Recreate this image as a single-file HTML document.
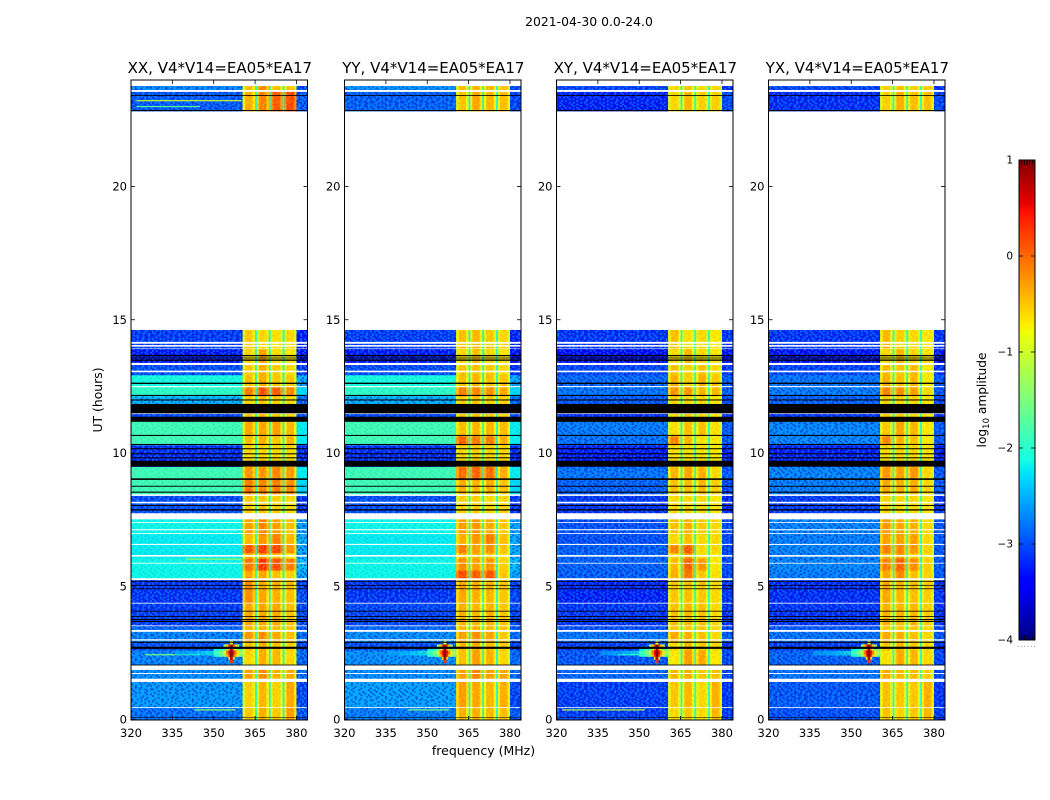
<!DOCTYPE html>
<html lang="en">
<head>
<meta charset="utf-8">
<title>2021-04-30 0.0-24.0 amplitude spectrograms</title>
<style>
html,body{margin:0;padding:0;background:#fff;}
svg{display:block;font-family:"DejaVu Sans","Liberation Sans",sans-serif;}
text{fill:#000;}
</style>
</head>
<body>
<svg id="figure" xmlns="http://www.w3.org/2000/svg" width="1050" height="800" viewBox="0 0 1050 800">
  <rect x="0" y="0" width="1050" height="800" fill="#fff"/>
  <text x="589" y="26" text-anchor="middle" font-size="12.4">2021-04-30 0.0-24.0</text>
  <text x="483.5" y="755" text-anchor="middle" font-size="12.5">frequency (MHz)</text>
  <text transform="translate(102,400) rotate(-90)" text-anchor="middle" font-size="12.4">UT (hours)</text>
  <text transform="translate(986,400) rotate(-90)" text-anchor="middle" font-size="12.2">log<tspan font-size="8.5" dy="3">10</tspan><tspan dy="-3"> amplitude</tspan></text>
  <defs id="defs"></defs>
  <g id="panels"></g>
  <g id="colorbar"></g>
</svg>
<script>
// ---------- data ----------
const panelTitles = ["XX, V4*V14=EA05*EA17", "YY, V4*V14=EA05*EA17", "XY, V4*V14=EA05*EA17", "YX, V4*V14=EA05*EA17"];
const xTicks = [320, 335, 350, 365, 380];
const yTicks = [0, 5, 10, 15, 20];
const colorbarTicks = [1, 0, -1, -2, -3, -4];
const colorbarTickLabels = ["1", "0", "\u22121", "\u22122", "\u22123", "\u22124"];

// Frequency columns (MHz): low band, four receiver blocks, upper edge
const lowBand = [320, 360.5];
const blockBands = [[360.5, 365], [365.5, 370], [370.5, 375], [375.5, 380]];
const edgeBand = [380, 384];
const gapBands = [[365, 365.5], [370, 370.5], [375, 375.5]];

// UT rows (hours)
const rowStarts = [0,0.45,1.5,2.05,2.6,2.9,3.3,3.5,4.37,5.25,5.6,6.05,6.25,6.55,6.96,7.74,8.42,8.99,9.49,10.3,10.64,11.2,11.83,12.14,12.47,12.93,13.3,13.9,22.83,23.62];
const rowEnds = [0.45,1.5,2.05,2.6,2.9,3.3,3.5,4.37,5.25,5.6,6.05,6.25,6.55,6.96,7.74,8.42,8.99,9.49,10.3,10.64,11.2,11.83,12.14,12.47,12.93,13.3,13.9,14.62,23.62,23.77];

// log10 amplitude per row: low, block 1-4, edge
const xxValues = [
[-2.8,-.5,-.35,-.5,-.25,-2.95],[-2.6,-.55,-.4,-.55,-.3,-3.05],[-2.65,-.25,-.15,-.35,-.3,-2.85],[-2.7,-.6,-.35,-.4,-.6,-2.85],
[-3,-.45,-.35,-.45,-.55,-3.05],[-2.7,-.2,-.15,-.3,-.45,-2.85],[-2.85,-.4,-.4,-.4,-.5,-2.95],[-3.1,-.3,-.3,-.3,-.45,-3.05],
[-3.15,-.15,-.3,-.35,-.45,-3.05],[-2.15,-.3,-.3,-.45,-.55,-2.5],[-2.15,.0,.35,.25,-.05,-2.4],[-2.2,-.4,-.3,-.45,-.7,-2.5],
[-2.2,.2,.3,.3,-.2,-2.5],[-2.2,-.4,-.2,-.05,-.4,-2.5],[-2.15,-.25,-.1,-.25,-.45,-2.55],[-3,-.5,-.5,-.55,-.6,-3.15],
[-1.85,-.05,-.1,-.05,-.15,-2.3],[-1.85,-.2,-.2,-.1,-.25,-2.2],[-3.2,-.6,-.6,-.6,-.6,-3.2],[-1.85,-.45,-.35,-.5,-.4,-2.2],
[-1.85,-.3,-.3,-.25,-.4,-2.2],[-3.05,-.5,-.45,-.5,-.6,-3.05],[-2.45,-.55,-.5,-.55,-.6,-2.85],[-1.95,-.05,.2,.15,-.15,-2.3],
[-2.1,-.45,-.35,-.5,-.5,-2.5],[-3,-.5,-.35,-.5,-.6,-3.15],[-3.3,-.6,-.3,-.65,-.7,-3.35],[-3.1,-.5,-.6,-.65,-.6,-3.25],
[-2.95,-.35,-.1,.15,.25,-2.95],[-2.7,-.45,-.15,-.45,-.5,-3.05]];
const yyValues = [
[-2.75,-.35,-.35,-.4,-.45,-2.95],[-2.55,-.25,-.3,-.4,-.35,-3.05],[-2.65,-.25,-.1,-.25,-.3,-2.85],[-2.65,-.45,-.25,-.35,-.6,-2.85],
[-3,-.4,-.35,-.45,-.5,-3.05],[-2.65,-.25,-.15,-.25,-.5,-2.85],[-2.85,-.4,-.35,-.4,-.5,-2.95],[-3.05,-.35,-.4,-.35,-.5,-3.05],
[-3.15,-.3,-.35,-.4,-.5,-3.05],[-2.15,.25,.15,.2,-.5,-2.5],[-2.15,-.15,-.25,-.2,-.55,-2.4],[-2.2,-.4,-.4,-.5,-.65,-2.5],
[-2.2,-.05,-.25,-.15,-.5,-2.5],[-2.2,-.35,-.2,-.05,-.45,-2.5],[-2.15,-.25,-.2,-.3,-.5,-2.55],[-3,-.55,-.55,-.6,-.6,-3.15],
[-1.85,-.35,-.4,-.35,-.5,-2.3],[-1.85,.05,.1,.05,-.35,-2.2],[-3.2,-.6,-.55,-.6,-.6,-3.2],[-1.85,.1,-.05,-.05,-.35,-2.2],
[-1.85,-.45,-.4,-.4,-.45,-2.2],[-3.05,-.5,-.45,-.5,-.6,-3.05],[-2.45,-.55,-.5,-.55,-.6,-2.85],[-1.95,-.05,-.1,-.15,-.3,-2.3],
[-2.1,-.45,-.4,-.45,-.5,-2.5],[-3,-.5,-.45,-.5,-.6,-3.15],[-3.3,-.6,-.45,-.6,-.7,-3.35],[-3.1,-.45,-.4,-.5,-.6,-3.25],
[-2.9,-.5,-.3,-.4,-.45,-3.05],[-2.65,-.45,-.4,-.4,-.5,-3.05]];
const xyValues = [
[-3.1,-.6,-.5,-.6,-.4,-3.1],[-3.1,-.5,-.4,-.6,-.35,-3.15],[-2.85,-.4,-.35,-.5,-.45,-3.05],[-2.95,-.7,-.25,-.3,-.7,-3.05],
[-3.1,-.6,-.4,-.5,-.6,-3.15],[-2.8,-.3,-.35,-.45,-.6,-2.95],[-3,-.5,-.5,-.5,-.6,-3.05],[-3.15,-.45,-.4,-.45,-.6,-3.15],
[-3.25,-.5,-.45,-.5,-.6,-3.15],[-2.9,-.35,.0,-.5,-.65,-3.05],[-2.9,-.4,.1,-.2,-.7,-3.05],[-2.9,-.6,-.25,-.6,-.7,-3.05],
[-2.9,-.1,.15,-.6,-.6,-3.05],[-3,-.6,-.45,-.6,-.6,-3.05],[-3,-.45,-.35,-.5,-.6,-3.05],[-3.15,-.6,-.6,-.6,-.7,-3.25],
[-2.9,-.45,-.45,-.4,-.55,-3.05],[-2.8,-.4,-.3,-.35,-.6,-2.95],[-3.3,-.65,-.65,-.65,-.7,-3.25],[-2.8,-.1,-.4,-.65,-.7,-2.95],
[-2.75,-.65,-.45,-.45,-.65,-2.95],[-3.2,-.6,-.5,-.6,-.7,-3.15],[-2.95,-.55,-.6,-.6,-.7,-3.05],[-2.8,-.2,-.2,-.4,-.4,-2.95],
[-2.85,-.35,-.55,-.35,-.5,-2.95],[-3.05,-.45,-.55,-.45,-.6,-3.15],[-3.4,-.65,-.4,-.6,-.7,-3.35],[-3.15,-.45,-.65,-.6,-.7,-3.15],
[-3.25,-.6,-.4,-.55,-.55,-3.05],[-3.05,-.6,-.5,-.6,-.6,-3.15]];
const yxValues = [
[-3,-.45,-.55,-.5,-.4,-3.1],[-2.95,-.45,-.5,-.5,-.35,-3.15],[-2.8,-.3,-.4,-.4,-.55,-3.05],[-2.9,-.65,-.3,-.4,-.6,-3.05],
[-3.1,-.5,-.4,-.5,-.6,-3.15],[-2.8,-.3,-.35,-.45,-.6,-2.95],[-2.95,-.5,-.5,-.5,-.6,-3.05],[-3.15,-.35,-.4,-.4,-.55,-3.15],
[-3.2,-.3,-.4,-.45,-.55,-3.15],[-2.75,-.3,-.1,-.45,-.55,-2.95],[-2.7,-.05,.1,-.15,-.55,-2.95],[-2.75,-.4,-.25,-.5,-.65,-2.95],
[-2.7,-.05,-.1,-.2,-.55,-2.95],[-2.75,-.25,-.25,-.25,-.6,-2.95],[-2.7,-.2,-.3,-.35,-.6,-2.95],[-3.1,-.55,-.6,-.6,-.7,-3.15],
[-2.75,-.3,-.35,-.35,-.6,-2.95],[-2.7,-.2,-.25,-.2,-.6,-2.95],[-3.25,-.6,-.6,-.6,-.7,-3.25],[-2.7,-.1,-.35,-.45,-.7,-2.95],
[-2.7,-.5,-.3,-.4,-.7,-2.95],[-3.15,-.5,-.5,-.6,-.7,-3.15],[-2.9,-.55,-.6,-.6,-.7,-3.05],[-2.75,-.1,-.15,-.25,-.6,-2.95],
[-2.8,-.35,-.45,-.4,-.7,-2.95],[-3.05,-.4,-.5,-.4,-.7,-3.15],[-3.35,-.6,-.4,-.6,-.7,-3.35],[-3.15,-.4,-.55,-.6,-.7,-3.15],
[-3.2,-.55,-.35,-.45,-.45,-3.05],[-3.05,-.55,-.45,-.55,-.55,-3.15]];
const panelValues = [xxValues, yyValues, xyValues, yxValues];
const gapLevels = [-2.15, -2.15, -2.1, -2.1];

// UT ranges with no data (white)
const missingRanges = [[14.62,22.81],[23.77,24],[23.55,23.62],[14.1,14.17],[13.99,14.05],[13.9,13.92],[13.3,13.38],[13.03,13.09],[12.47,12.51],[11.46,11.49],[8.39,8.45],[8.11,8.17],[7.51,7.74],[7.38,7.41],[7.1,7.14],[6.96,6.99],[6.55,6.59],[6.11,6.17],[5.85,5.88],[5.23,5.3],[4.35,4.38],[3.5,3.53],[3.29,3.36],[2.96,3.01],[1.86,2.03],[1.71,1.745],[1.41,1.53],[0.43,0.46]];
// UT ranges flagged (black)
const flaggedRanges = [[0.06,0.08],[2.03,2.06],[2.65,2.73],[2.88,2.92],[3.66,3.7],[3.73,3.77],[3.85,3.88],[4.05,4.08],[4.89,4.92],[5.02,5.05],[5.17,5.2],[7.84,7.89],[8.01,8.05],[8.51,8.55],[8.735,8.77],[8.99,9.05],[9.49,9.71],[9.8,9.84],[9.95,9.99],[10.14,10.18],[10.3,10.34],[10.64,10.68],[11.17,11.36],[11.49,11.84],[11.97,12.01],[12.14,12.18],[12.59,12.64],[13.46,13.51],[13.55,13.58],[13.63,13.68],[22.83,22.87],[23.4,23.43]];

// Interference burst near 356 MHz
const flareFreqEdges = [350, 352, 353.5, 354.5, 355.3, 355.9, 356.9, 357.5, 358.3, 359.2, 360.5];
const flareHourStarts = [2.12, 2.25, 2.36, 2.45, 2.6, 2.73, 2.82];
const flareHourEnds = [2.25, 2.36, 2.45, 2.6, 2.65, 2.82, 2.95];
const flareCells = [
[null,null,null,null,null,.3,null,null,null,null],
[null,null,null,null,-.6,.75,-.6,null,null,null],
[-2,-1.7,-1.3,-.5,.3,.95,.3,-.5,-1,-1.5],
[-1.9,-1.5,-1,-.1,.5,.95,.5,-.1,-.7,-1.3],
[-2.2,-2,-1.7,-1.2,-.4,.7,-.4,-1,-1.4,-1.7],
[null,null,-1.3,-.5,.2,.9,.2,-.5,-1.3,null],
[null,null,null,null,null,-.9,null,null,null,null]];
const streakFreqEdges = [336, 340, 344, 347, 350];
const streakValues = [-2.5, -2.4, -2.25, -2.1];
const streakHours = [2.4, 2.58];

// Narrow-band spectral lines
const linePanels = [0, 0, 0, 0, 0, 1, 2, 2];
const lineStartFreqs = [322, 322, 340, 343, 325, 343, 322, 342];
const lineEndFreqs = [360, 345, 360, 358, 345, 358, 352, 353];
const lineHours = [23.22, 23.0, 6.02, 0.36, 2.43, 0.36, 0.36, 2.43];
const lineLevels = [-1.0, -1.7, -1.3, -1.4, -1.5, -1.5, -1.1, -1.6];

// Hand-typed speckle tile for the receiver noise grain
const speckleTile = [
"+.-..+-.+..-.+.-",
"-+..-.+..-+.-..+",
".-+.+-..+.-..+-.",
"+..-..+-.+..+-.-",
".+-.+..-..-+..+.",
"-..+.-+.+-..-.+-",
"..+-..-.+..+.-..",
"+-..+.+-.-.+-.+.",
".+.-.-..+.+..-+-",
"-.+..+.-+..-+..+",
"+..-+..+..-.+-..",
".-+..-.+-+..-.+.",
"-+.+.-..+.-+..-+",
"..-.+.+-..+.-+..",
"+.+-..-.+.-..+.-",
".-..+-+..-+.+.-+"];

// ---------- layout and axis functions ----------
const NS = "http://www.w3.org/2000/svg";
const panelLefts = [131, 344.5, 556.5, 768.5];
const panelWidth = 176.5;
const axisTop = 80;
const axisBottom = 720;
const pxPerHour = 26.65;
const blockMargin = 0.9;
const fx = (p, f) => panelLefts[p] + (f - 320) / 64 * panelWidth;
const fy = h => 719.5 - h * pxPerHour;
function channel(t, pts) {
  for (let i = 1; i < pts.length; i++) {
    if (t <= pts[i][0]) {
      const a = pts[i - 1], b = pts[i];
      return a[1] + (b[1] - a[1]) * (t - a[0]) / (b[0] - a[0]);
    }
  }
  return pts[pts.length - 1][1];
}
function jet(v) {
  const t = Math.max(0, Math.min(1, (v + 4) / 5));
  const r = channel(t, [[0,0],[.35,0],[.66,1],[.89,1],[1,.5]]);
  const g = channel(t, [[0,0],[.125,0],[.375,1],[.64,1],[.91,0],[1,0]]);
  const b = channel(t, [[0,.5],[.11,1],[.34,1],[.65,0],[1,0]]);
  return "rgb(" + Math.round(r * 255) + "," + Math.round(g * 255) + "," + Math.round(b * 255) + ")";
}
function make(tag, attrs, parent) {
  const n = document.createElementNS(NS, tag);
  for (const k in attrs) n.setAttribute(k, attrs[k]);
  parent.appendChild(n);
  return n;
}

// ---------- speckle patterns ----------
const defs = document.getElementById("defs");
const speckleW = 1.9;
const speckleH = 1.7;
panelTitles.forEach((title, p) => {
  const offset = "translate(" + (p * 7) + "," + (p * 11) + ")";
  const pat = make("pattern", {id: "speckle" + p, patternUnits: "userSpaceOnUse", width: 16 * speckleW, height: 16 * speckleH, patternTransform: offset}, defs);
  const hot = make("pattern", {id: "blockgrain" + p, patternUnits: "userSpaceOnUse", width: 16 * speckleW, height: 16 * speckleH, patternTransform: offset}, defs);
  speckleTile.forEach((line, r) => {
    for (let c = 0; c < line.length; c++) {
      if (line[c] === ".") continue;
      make("rect", {x: c * speckleW, y: r * speckleH, width: speckleW, height: speckleH, fill: line[c] === "+" ? "#10b0ff" : "#0004b0"}, pat);
      make("rect", {x: c * speckleW, y: r * speckleH, width: speckleW, height: speckleH, fill: line[c] === "+" ? "#ffff10" : "#ff9000"}, hot);
    }
  });
  const clip = make("clipPath", {id: "clip" + p}, defs);
  make("rect", {x: panelLefts[p], y: axisTop, width: panelWidth, height: axisBottom - axisTop}, clip);
});

// ---------- panels ----------
const panelsRoot = document.getElementById("panels");
panelTitles.forEach((title, p) => {
  const g = make("g", {}, panelsRoot);
  
  
  const body = make("g", {"clip-path": "url(#clip" + p + ")"}, g);
  
  
  const values = panelValues[p];
  const bg = make("rect", {x: panelLefts[p], y: axisTop, width: panelWidth, height: axisBottom - axisTop, fill: "#fff"}, body);
  
  

  values.forEach((row, r) => {
    const yTop = fy(rowEnds[r]);
    const h = fy(rowStarts[r]) - yTop + 0.3;
    const bands = [lowBand].concat(blockBands, [edgeBand]);
    bands.forEach((band, c) => {
      const x0 = fx(p, band[0]);
      const w = fx(p, band[1]) - x0;
      const cell = make("rect", {x: x0, y: yTop, width: w + 0.3, height: h, fill: jet(row[c])}, body);
      
      
      const isBlock = c >= 1 && c <= 4;
      if (isBlock) {
        const rim = jet(Math.min(row[c], Math.max(row[c] - 0.4, -0.95)));
        const leftRim = make("rect", {x: x0, y: yTop, width: fx(p, band[0] + blockMargin) - x0, height: h, fill: rim}, body);
        
        
        const rx = fx(p, band[1] - blockMargin);
        const rightRim = make("rect", {x: rx, y: yTop, width: fx(p, band[1]) - rx, height: h, fill: rim}, body);
        
        
      }
      const grain = isBlock ? 0.28 : (row[c] > -2.4 ? 0.1 : 0.55);
      const overlay = make("rect", {x: x0, y: yTop, width: w, height: h, fill: "url(#" + (isBlock ? "blockgrain" : "speckle") + p + ")", opacity: grain}, body);
      
      
    });
    gapBands.forEach(band => {
      const x0 = fx(p, band[0]);
      const gap = make("rect", {x: x0, y: yTop, width: fx(p, band[1]) - x0 + 0.3, height: h, fill: jet(gapLevels[p])}, body);
      
      
    });
  });

  // spectral lines
  linePanels.forEach((lp, i) => {
    if (lp !== p) return;
    const y = fy(lineHours[i]);
    const line = make("rect", {x: fx(p, lineStartFreqs[i]), y: y - 0.6, width: fx(p, lineEndFreqs[i]) - fx(p, lineStartFreqs[i]), height: 1.2, fill: jet(lineLevels[i])}, body);
    
    
  });

  // burst streak and cross
  streakValues.forEach((v, i) => {
    const x0 = fx(p, streakFreqEdges[i]);
    const s = make("rect", {x: x0, y: fy(streakHours[1]), width: fx(p, streakFreqEdges[i + 1]) - x0 + 0.3, height: fy(streakHours[0]) - fy(streakHours[1]), fill: jet(v), opacity: 0.6}, body);
    
    
  });
  flareCells.forEach((row, r) => {
    row.forEach((v, c) => {
      if (v === null) return;
      const x0 = fx(p, flareFreqEdges[c]);
      const yT = fy(flareHourEnds[r]);
      const f = make("rect", {x: x0, y: yT, width: fx(p, flareFreqEdges[c + 1]) - x0 + 0.2, height: fy(flareHourStarts[r]) - yT + 0.2, fill: jet(v)}, body);
      
      
    });
  });

  // missing and flagged ranges
  missingRanges.forEach(rng => {
    const y0 = fy(rng[1]);
    const m = make("rect", {x: panelLefts[p], y: y0, width: panelWidth, height: fy(rng[0]) - y0, fill: "#fff"}, body);
    
    
  });
  flaggedRanges.forEach(rng => {
    const y0 = fy(rng[1]);
    const m = make("rect", {x: panelLefts[p], y: y0, width: panelWidth, height: fy(rng[0]) - y0, fill: "#000"}, body);
    
    
  });

  // ticks and tick labels
  xTicks.forEach(tick => {
    const x = fx(p, tick);
    const t1 = make("line", {x1: x, x2: x, y1: axisBottom, y2: axisBottom - 4, stroke: "#000", "stroke-width": 0.8}, g);
    
    
    const t2 = make("line", {x1: x, x2: x, y1: axisTop, y2: axisTop + 4, stroke: "#000", "stroke-width": 0.8}, g);
    
    
    const label = make("text", {x: x, y: 737, "text-anchor": "middle", "font-size": 11.5}, g);
    label.textContent = String(tick);
    
    
  });
  yTicks.forEach(tick => {
    const y = fy(tick);
    const t1 = make("line", {x1: panelLefts[p], x2: panelLefts[p] + 4, y1: y, y2: y, stroke: "#000", "stroke-width": 0.8}, g);
    
    
    const t2 = make("line", {x1: panelLefts[p] + panelWidth - 4, x2: panelLefts[p] + panelWidth, y1: y, y2: y, stroke: "#000", "stroke-width": 0.8}, g);
    
    
    const label = make("text", {x: panelLefts[p] - 4, y: y + 4, "text-anchor": "end", "font-size": 11.5}, g);
    label.textContent = String(tick);
    
    
  });

  const frame = make("rect", {x: panelLefts[p], y: axisTop, width: panelWidth, height: axisBottom - axisTop, fill: "none", stroke: "#000", "stroke-width": 1}, g);
  
  
  const ttl = make("text", {x: panelLefts[p] + panelWidth / 2 + 0.6, y: 73, "text-anchor": "middle", "font-size": 15}, g);
  ttl.textContent = title;
  
  
});

// ---------- colorbar ----------
const cb = document.getElementById("colorbar");
const cbLeft = 1019, cbWidth = 16, cbTop = 160, cbHeight = 480;
const cy = v => cbTop + (1 - v) / 5 * cbHeight;
for (let i = 0; i < 240; i++) {
  const v = 1 - (i + 0.5) / 240 * 5;
  const seg = make("rect", {x: cbLeft, y: cbTop + i * 2, width: cbWidth, height: 2.2, fill: jet(v)}, cb);
  
  
}
colorbarTicks.forEach((tick, i) => {
  const y = cy(tick);
  const a = make("line", {x1: cbLeft, x2: cbLeft + 4, y1: y, y2: y, stroke: "#000", "stroke-width": 0.8}, cb);
  
  
  const b = make("line", {x1: cbLeft + cbWidth - 4, x2: cbLeft + cbWidth, y1: y, y2: y, stroke: "#000", "stroke-width": 0.8}, cb);
  
  
  const label = make("text", {x: cbLeft - 6, y: y + 3.5, "text-anchor": "end", "font-size": 10.5}, cb);
  label.textContent = colorbarTickLabels[i];
  
  
});
for (let i = 0; i < 6; i++) {
  const x = cbLeft + 2.6 + i * 2.7;
  const topTick = make("line", {x1: x, x2: x, y1: cbTop, y2: cbTop + 5, stroke: "#000", "stroke-width": 0.8}, cb);
  
  
  const bottomTick = make("line", {x1: x, x2: x, y1: cbTop + cbHeight - 5, y2: cbTop + cbHeight, stroke: "#000", "stroke-width": 0.8}, cb);
  
  
  const dot = make("rect", {x: 1017.5 + i * 3.3, y: 646, width: 1, height: 1, fill: "#999"}, cb);
  
  
}
const cbFrame = make("rect", {x: cbLeft, y: cbTop, width: cbWidth, height: cbHeight, fill: "none", stroke: "#000", "stroke-width": 1}, cb);


</script>
</body>
</html>
